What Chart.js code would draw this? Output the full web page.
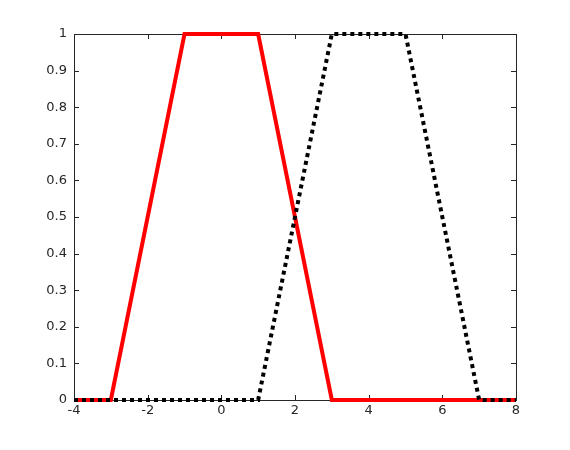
<!DOCTYPE html>
<html>
<head>
<meta charset="utf-8">
<script src="https://cdn.jsdelivr.net/npm/chart.js@4"></script>
<style>
  html, body { margin: 0; padding: 0; background: #fff; }
  #wrap { width: 570px; height: 450px; }
</style>
</head>
<body>
<div id="wrap"><canvas id="chart" width="570" height="450"></canvas></div>
<script>
const redX = [-4, -3, -1, 1, 3, 8];
const redY = [0, 0, 1, 1, 0, 0];
const blackX = [-4, 1, 3, 5, 7, 8];
const blackY = [0, 0, 1, 1, 0, 0];
const xTicks = [-4, -2, 0, 2, 4, 6, 8];
const yTicks = [0, 0.1, 0.2, 0.3, 0.4, 0.5, 0.6, 0.7, 0.8, 0.9, 1];

const toPoints = (xs, ys) => xs.map((x, i) => ({ x: x, y: ys[i] }));

// box around the axes with ticks pointing inward, matlab style
const boxTicks = {
  id: "boxTicks",
  beforeDatasetsDraw(chart) {
    const ctx = chart.ctx;
    const a = chart.chartArea;
    const xs = chart.scales.x;
    const ys = chart.scales.y;
    const len = 5;
    ctx.save();
    ctx.strokeStyle = "#262626";
    ctx.lineWidth = 1;
    ctx.beginPath();
    xTicks.forEach((v) => {
      const px = Math.round(xs.getPixelForValue(v)) + 0.5;
      ctx.moveTo(px, a.bottom);
      ctx.lineTo(px, a.bottom - len);
      ctx.moveTo(px, a.top);
      ctx.lineTo(px, a.top + len);
    });
    yTicks.forEach((v) => {
      const py = Math.round(ys.getPixelForValue(v)) + 0.5;
      ctx.moveTo(a.left, py);
      ctx.lineTo(a.left + len, py);
      ctx.moveTo(a.right, py);
      ctx.lineTo(a.right - len, py);
    });
    ctx.stroke();
    ctx.strokeRect(Math.round(a.left) + 0.5, Math.round(a.top) + 0.5,
      Math.round(a.right - a.left), Math.round(a.bottom - a.top));
    ctx.restore();
  },
};

const el = document.getElementById("chart");
new Chart(el.getContext("2d"), {
  type: "line",
  data: {
    datasets: [
      {
        data: toPoints(redX, redY),
        borderColor: "#ff0000",
        borderWidth: 4,
        pointRadius: 0,
        tension: 0,
        clip: false,
        order: 2,
      },
      {
        data: toPoints(blackX, blackY),
        borderColor: "#000000",
        borderWidth: 4,
        borderDash: [4, 4],
        pointRadius: 0,
        tension: 0,
        clip: false,
        order: 1,
      },
    ],
  },
  options: {
    responsive: false,
    animation: false,
    events: [],
    layout: { padding: { top: 34, right: 54, left: 0, bottom: 0 } },
    plugins: {
      legend: { display: false },
      tooltip: { enabled: false },
    },
    scales: {
      x: {
        type: "linear",
        min: -4,
        max: 8,
        afterFit: (s) => { s.height = 50; },
        afterBuildTicks: (s) => { s.ticks = xTicks.map((v) => ({ value: v })); },
        grid: { display: false, drawTicks: false },
        border: { display: false },
        ticks: {
          padding: 3,
          color: "#262626",
          font: { family: "DejaVu Sans", size: 13 },
          callback: (v) => String(v),
        },
      },
      y: {
        type: "linear",
        min: 0,
        max: 1,
        afterFit: (s) => { s.width = 74; },
        afterBuildTicks: (s) => { s.ticks = yTicks.map((v) => ({ value: v })); },
        grid: { display: false, drawTicks: false },
        border: { display: false },
        ticks: {
          padding: 7,
          color: "#262626",
          font: { family: "DejaVu Sans", size: 13 },
          callback: (v) => String(Math.round(v * 10) / 10),
        },
      },
    },
  },
  plugins: [boxTicks],
});
</script>
</body>
</html>
